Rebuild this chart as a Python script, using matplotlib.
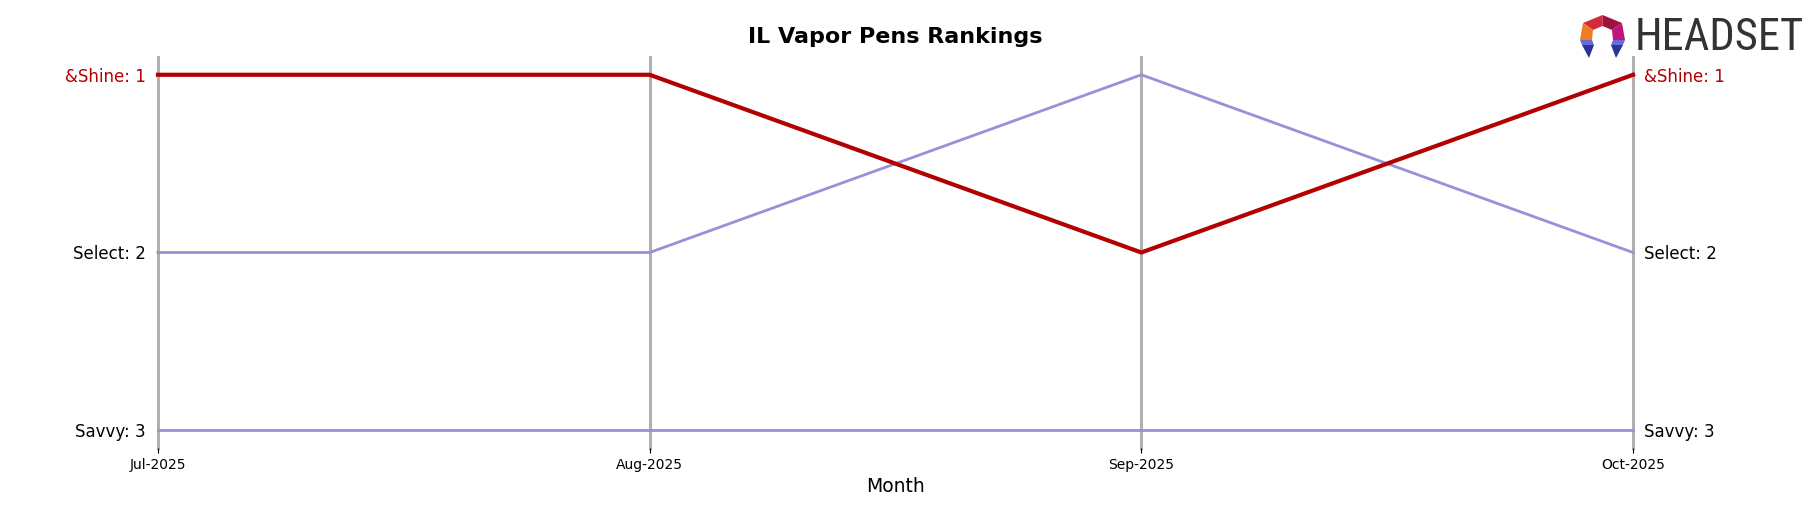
import matplotlib.pyplot as plt
from matplotlib.patches import Polygon
from matplotlib import font_manager

months = ['Jul-2025', 'Aug-2025', 'Sep-2025', 'Oct-2025']
brands = ['&Shine', 'Select', 'Savvy']
ranks = {
    '&Shine': [1, 1, 2, 1],
    'Select': [2, 2, 1, 2],
    'Savvy': [3, 3, 3, 3],
}
highlight = '&Shine'

red = '#b30000'
purple = '#9b8edb'

fig = plt.figure(figsize=(18.18, 5.07), dpi=100)
ax = fig.add_axes([158 / 1818, 1 - 448 / 507, (1633 - 158) / 1818, (448 - 57) / 507])

x = list(range(len(months)))
for xi in x:
    ax.axvline(xi, color='#b0b0b0', lw=2.2, zorder=1, clip_on=False)

for b in brands:
    if b == highlight:
        ax.plot(x, ranks[b], color=red, lw=3, zorder=3, clip_on=False)
    else:
        ax.plot(x, ranks[b], color=purple, lw=2, zorder=2, clip_on=False)

ax.set_xlim(0, len(months) - 1)
ax.set_ylim(3.1, 0.9)
ax.set_xticks(x)
ax.set_xticklabels(months, fontsize=10)
ax.set_xlabel('Month', fontsize=13.5, labelpad=4)
for s in ax.spines.values():
    s.set_visible(False)

# rank labels on both sides
first = {b: ranks[b][0] for b in brands}
last = {b: ranks[b][-1] for b in brands}
left_order = sorted(brands, key=lambda b: first[b])
ax.set_yticks([first[b] for b in left_order])
ax.set_yticklabels([f'{b}: {first[b]}' for b in left_order], fontsize=12)
ax.tick_params(axis='y', length=0, pad=9)
for lbl, b in zip(ax.get_yticklabels(), left_order):
    lbl.set_color(red if b == highlight else 'black')

ax2 = ax.twinx()
ax2.set_ylim(ax.get_ylim())
right_order = sorted(brands, key=lambda b: last[b])
ax2.set_yticks([last[b] for b in right_order])
ax2.set_yticklabels([f'{b}: {last[b]}' for b in right_order], fontsize=12)
ax2.tick_params(axis='y', length=0, pad=8)
for lbl, b in zip(ax2.get_yticklabels(), right_order):
    lbl.set_color(red if b == highlight else 'black')
for s in ax2.spines.values():
    s.set_visible(False)

fig.text(895 / 1818, 1 - 37 / 507, 'IL Vapor Pens Rankings', ha='center', va='center',
         fontsize=16, fontweight='bold')

# headset logo
lax = fig.add_axes([1580 / 1818, 1 - 58 / 507, 45 / 1818, 43 / 507])
lax.set_xlim(0, 45)
lax.set_ylim(43, 0)
lax.axis('off')
pieces = [
    ([(22.5, 0), (3, 8), (13, 15), (22.5, 11)], '#d42a3c'),
    ([(22.5, 0), (42, 8), (32, 15), (22.5, 11)], '#a0133f'),
    ([(3, 8), (0, 25), (12, 25), (13, 15)], '#f07c22'),
    ([(42, 8), (45, 25), (33, 25), (32, 15)], '#c0157a'),
    ([(0, 25), (12, 25), (14, 30), (2, 30)], '#6a6ae0'),
    ([(2, 30), (14, 30), (9, 43)], '#283593'),
    ([(45, 25), (33, 25), (31, 30), (43, 30)], '#6a6ae0'),
    ([(43, 30), (31, 30), (36, 43)], '#283593'),
]
for pts, c in pieces:
    lax.add_patch(Polygon(pts, closed=True, color=c, lw=0))

installed = {f.name for f in font_manager.fontManager.ttflist}
narrow = None
for name in ['Liberation Sans Narrow', 'DejaVu Sans Condensed', 'Roboto Condensed', 'Open Sans Condensed']:
    if name in installed:
        narrow = name
        break
if narrow:
    fig.text(1635 / 1818, 1 - 38 / 507, 'HEADSET', ha='left', va='center', fontsize=32,
             color='#333333', family=narrow)
else:
    fig.text(1635 / 1818, 1 - 38 / 507, 'HEADSET', ha='left', va='center', fontsize=23,
             color='#333333', family='DejaVu Sans')

fig.savefig('out.png', dpi=100)
